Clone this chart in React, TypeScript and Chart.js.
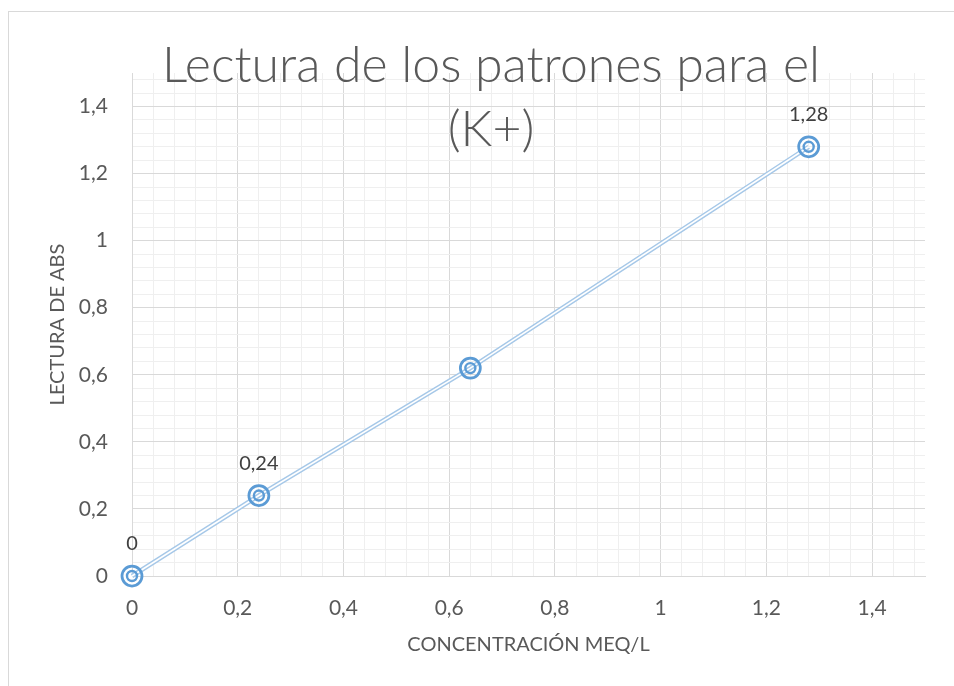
import React, { useEffect, useRef } from "react";
import { Chart, registerables } from "chart.js";

Chart.register(...registerables);

const concentrations = [0, 0.24, 0.64, 1.28];
const absorbances = [0, 0.24, 0.62, 1.28];
const showDataLabel = [true, true, false, true];
const titleLines = ["Lectura de los patrones para el", "(K+)"];
const xAxisTitle = "CONCENTRACIÓN MEQ/L";
const yAxisTitle = "LECTURA DE ABS";
const axisMin = 0;
const axisMax = 1.5;
const majorStep = 0.2;
const minorStep = 0.04;

const FONT = "Lato, 'Open Sans', 'DejaVu Sans', sans-serif";

const fmt = (v: number) => String(Math.round(v * 100) / 100).replace(".", ",");
const isMajor = (v: number) => Math.abs(v / majorStep - Math.round(v / majorStep)) < 1e-6;

const points = concentrations.map((x, i) => ({ x, y: absorbances[i] }));

const overlayPlugin = {
  id: "overlay",
  afterDatasetsDraw(chart: any) {
    const ctx = chart.ctx;
    const meta = chart.getDatasetMeta(2);
    ctx.save();
    ctx.font = `20px ${FONT}`;
    ctx.fillStyle = "#404040";
    ctx.textAlign = "center";
    ctx.textBaseline = "middle";
    meta.data.forEach((el: any, i: number) => {
      if (!showDataLabel[i]) return;
      ctx.fillText(fmt(absorbances[i]), el.x, el.y - 32);
    });
    ctx.restore();
  },
  afterDraw(chart: any) {
    const ctx = chart.ctx;
    ctx.save();
    ctx.font = `300 50px ${FONT}`;
    ctx.fillStyle = "#595959";
    ctx.textAlign = "center";
    ctx.textBaseline = "alphabetic";
    const cx = chart.width / 2 + 2;
    const top = chart.chartArea.top;
    titleLines.forEach((line, i) => {
      ctx.fillText(line, cx, top + 9 + i * 64);
    });
    ctx.restore();
  },
};

export default function App() {
  const ref = useRef<HTMLCanvasElement | null>(null);
  useEffect(() => {
    document.body.style.overflow = "hidden";
    const canvas = ref.current;
    if (!canvas) return;
    const gridColor = (c: any) => (isMajor(c.tick.value) ? "#d9d9d9" : "#efefef");
    const tickFont = { family: FONT, size: 21 };
    const chart = new Chart(canvas, {
      type: "scatter",
      data: {
        datasets: [
          {
            data: points,
            showLine: true,
            borderColor: "#a6c8e8",
            borderWidth: 4.5,
            pointRadius: 0,
            pointHoverRadius: 0,
            order: 4,
            clip: false,
          },
          {
            data: points,
            showLine: true,
            borderColor: "#ffffff",
            borderWidth: 1.6,
            pointRadius: 0,
            pointHoverRadius: 0,
            order: 3,
            clip: false,
          },
          {
            data: points,
            showLine: false,
            pointRadius: 10,
            pointBorderWidth: 2.75,
            pointBorderColor: "#5b9bd5",
            pointBackgroundColor: "rgba(0,0,0,0)",
            order: 2,
            clip: false,
          },
          {
            data: points,
            showLine: false,
            pointRadius: 5,
            pointBorderWidth: 2.4,
            pointBorderColor: "#5b9bd5",
            pointBackgroundColor: "rgba(0,0,0,0)",
            order: 1,
            clip: false,
          },
        ],
      },
      options: {
        responsive: false,
        animation: false,
        devicePixelRatio: 1,
        layout: { padding: { top: 61, right: 44, bottom: 36, left: 0 } },
        plugins: {
          legend: { display: false },
          title: { display: false },
          tooltip: { enabled: false },
        },
        scales: {
          x: {
            type: "linear",
            min: axisMin,
            max: axisMax,
            afterFit: (s: any) => {
              s.height = 90;
            },
            ticks: {
              stepSize: minorStep,
              includeBounds: false,
              autoSkip: false,
              maxRotation: 0,
              padding: 20,
              color: "#595959",
              font: tickFont,
              callback: (v: any) => (isMajor(Number(v)) ? fmt(Number(v)) : ""),
            },
            grid: { color: gridColor, drawTicks: false, lineWidth: 1 },
            border: { color: "#d9d9d9" },
            title: {
              display: true,
              text: xAxisTitle,
              color: "#595959",
              font: { family: FONT, size: 20 },
              padding: { top: 0, bottom: 9 },
            },
          },
          y: {
            type: "linear",
            min: axisMin,
            max: axisMax,
            afterFit: (s: any) => {
              s.width = 123;
            },
            ticks: {
              stepSize: minorStep,
              includeBounds: false,
              autoSkip: false,
              padding: 24,
              color: "#595959",
              font: tickFont,
              callback: (v: any) => (isMajor(Number(v)) ? fmt(Number(v)) : ""),
            },
            grid: { color: gridColor, drawTicks: false, lineWidth: 1 },
            border: { color: "#d9d9d9" },
            title: {
              display: true,
              text: yAxisTitle,
              color: "#595959",
              font: { family: FONT, size: 20 },
              padding: { top: 37, bottom: 0 },
            },
          },
        },
      },
      plugins: [overlayPlugin],
    } as any);
    return () => chart.destroy();
  }, []);
  return (
    <div
      style={{
        position: "fixed",
        left: 8,
        top: 11,
        width: 990,
        height: 720,
        border: "1px solid #d9d9d9",
        background: "#ffffff",
        overflow: "hidden",
      }}
    >
      <canvas ref={ref} width={960} height={690} style={{ display: "block" }} />
    </div>
  );
}
